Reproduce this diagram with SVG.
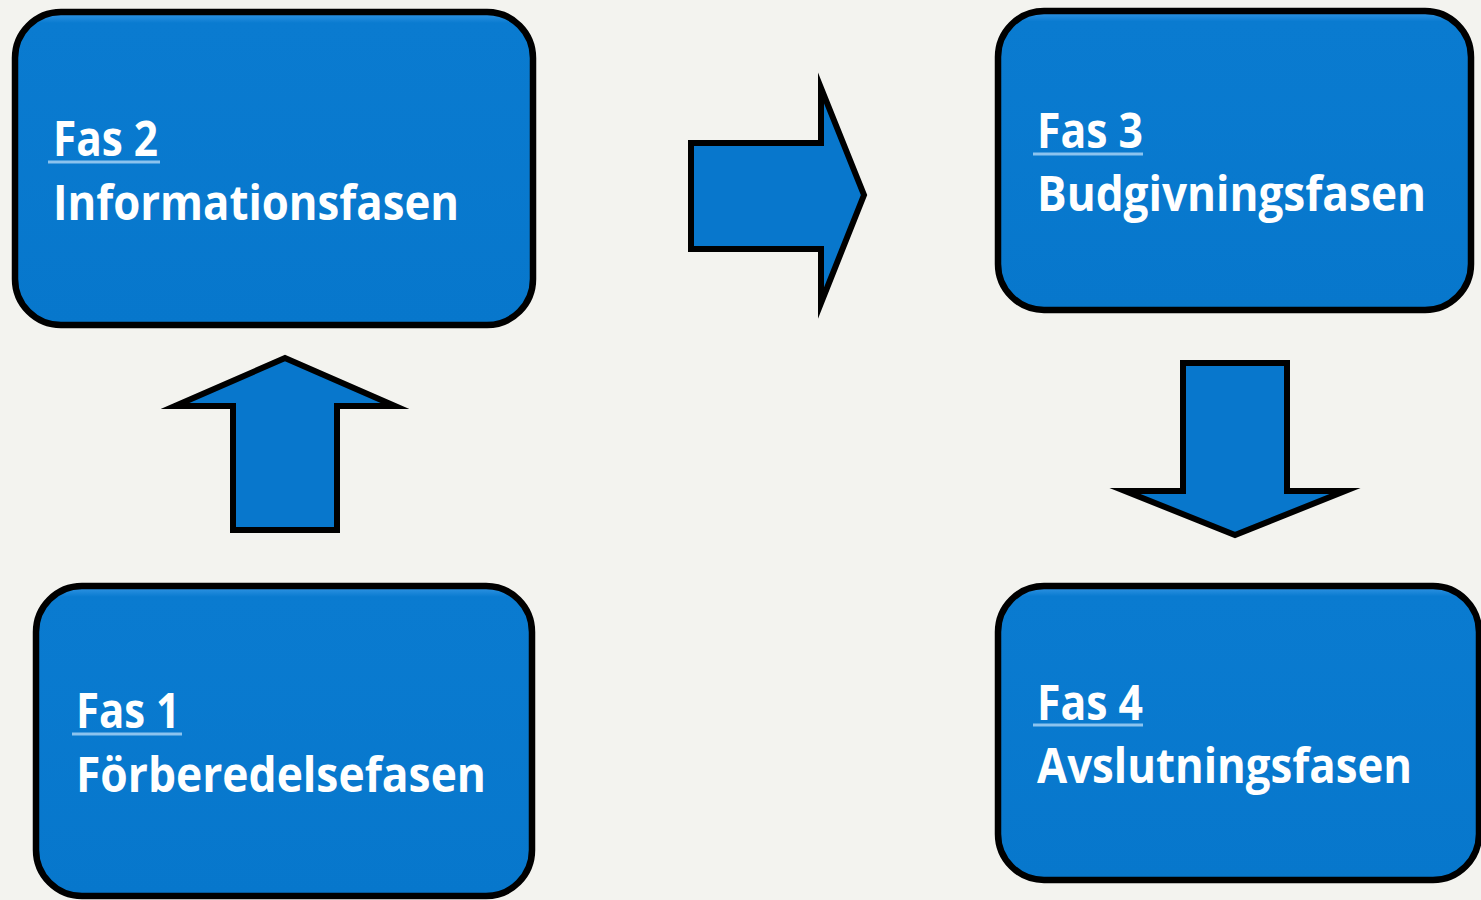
<svg xmlns="http://www.w3.org/2000/svg" width="1481" height="900" viewBox="0 0 1481 900">
  <style>
    .box { fill: url(#boxGrad); stroke: #000; stroke-width: 6.5; }
    .arrow { fill: #0877cc; stroke: #000; stroke-width: 6; stroke-linejoin: miter; stroke-miterlimit: 10; }
    .title { font-family: "Open Sans", "Liberation Sans", sans-serif; font-weight: 700; font-size: 48px; fill: #fff; }
    .ul { stroke: #8cc3ee; stroke-width: 3; }
  </style>
  <defs>
    <linearGradient id="boxGrad" x1="0" y1="0" x2="0" y2="1">
      <stop offset="0" stop-color="#3597e6"/>
      <stop offset="0.035" stop-color="#0a7bd0"/>
      <stop offset="1" stop-color="#0777cc"/>
    </linearGradient>
  </defs>
  <rect x="0" y="0" width="1481" height="900" fill="#f3f3ef"/>

  <g id="connectors">
    <path id="arrow-up" class="arrow" d="M233,530 V406 H175 L285,358 L395,406 H337 V530 Z"/>
    <path id="arrow-right" class="arrow" d="M691,143 H821 V88 L864,195 L821,303 V249 H691 Z"/>
    <path id="arrow-down" class="arrow" d="M1183,363 V491 H1125 L1235,535 L1345,491 H1287 V363 Z"/>
  </g>

  <g id="fas2">
    <rect class="box" x="15" y="12" width="518" height="313" rx="46" ry="46"/>
    <text class="title" x="53" y="156" textLength="105" lengthAdjust="spacingAndGlyphs">Fas 2</text>
    <line class="ul" x1="48" y1="162" x2="160" y2="162"/>
    <text class="title" x="53" y="220" textLength="406" lengthAdjust="spacingAndGlyphs">Informationsfasen</text>
  </g>

  <g id="fas3">
    <rect class="box" x="998" y="11" width="473" height="299" rx="46" ry="46"/>
    <text class="title" x="1037" y="148" textLength="106" lengthAdjust="spacingAndGlyphs">Fas 3</text>
    <line class="ul" x1="1033" y1="154" x2="1143" y2="154"/>
    <text class="title" x="1037" y="211" textLength="389" lengthAdjust="spacingAndGlyphs">Budgivningsfasen</text>
  </g>

  <g id="fas1">
    <rect class="box" x="36" y="586" width="496" height="310" rx="46" ry="46"/>
    <text class="title" x="76" y="728" textLength="104" lengthAdjust="spacingAndGlyphs">Fas 1</text>
    <line class="ul" x1="72" y1="734" x2="182" y2="734"/>
    <text class="title" x="76" y="792" textLength="410" lengthAdjust="spacingAndGlyphs">Förberedelsefasen</text>
  </g>

  <g id="fas4">
    <rect class="box" x="998" y="586" width="481" height="294" rx="46" ry="46"/>
    <text class="title" x="1037" y="720" textLength="106" lengthAdjust="spacingAndGlyphs">Fas 4</text>
    <line class="ul" x1="1033" y1="725" x2="1143" y2="725"/>
    <text class="title" x="1037" y="783" textLength="375" lengthAdjust="spacingAndGlyphs">Avslutningsfasen</text>
  </g>
</svg>
